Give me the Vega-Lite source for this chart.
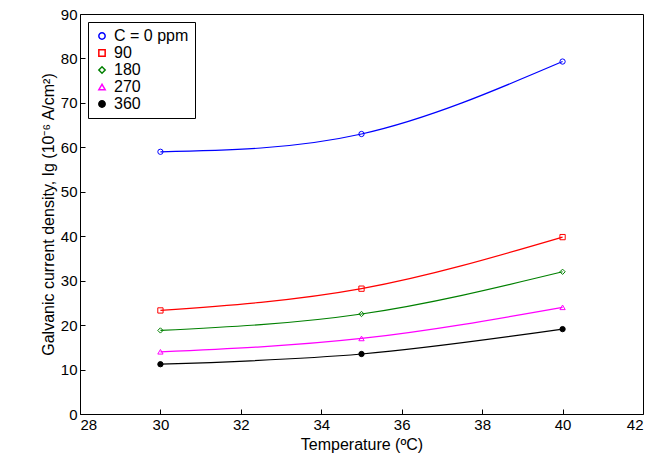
{
  "$schema": "https://vega.github.io/schema/vega-lite/v6.json",
  "width": 563,
  "height": 400,
  "padding": {"left": 40, "top": 7, "right": 5, "bottom": 5},
  "background": "white",
  "data": {
    "values": [
      {"T": 30, "I": 59.0, "C": "C = 0 ppm"},
      {"T": 35, "I": 63.0, "C": "C = 0 ppm"},
      {"T": 40, "I": 79.3, "C": "C = 0 ppm"},
      {"T": 30, "I": 23.3, "C": "90"},
      {"T": 35, "I": 28.2, "C": "90"},
      {"T": 40, "I": 39.8, "C": "90"},
      {"T": 30, "I": 18.8, "C": "180"},
      {"T": 35, "I": 22.5, "C": "180"},
      {"T": 40, "I": 32.0, "C": "180"},
      {"T": 30, "I": 14.0, "C": "270"},
      {"T": 35, "I": 17.0, "C": "270"},
      {"T": 40, "I": 24.0, "C": "270"},
      {"T": 30, "I": 11.2, "C": "360"},
      {"T": 35, "I": 13.5, "C": "360"},
      {"T": 40, "I": 19.1, "C": "360"}
    ]
  },
  "encoding": {
    "x": {
      "field": "T", "type": "quantitative",
      "scale": {"domain": [28, 42], "nice": false},
      "axis": {"values": [28, 30, 32, 34, 36, 38, 40, 42], "title": "Temperature (\u00baC)"}
    },
    "y": {
      "field": "I", "type": "quantitative",
      "scale": {"domain": [0, 90], "nice": false},
      "axis": {"values": [0, 10, 20, 30, 40, 50, 60, 70, 80, 90], "title": "Galvanic current density, Ig (10\u207b\u2076 A/cm\u00b2)"}
    },
    "color": {
      "field": "C", "type": "nominal",
      "scale": {
        "domain": ["C = 0 ppm", "90", "180", "270", "360"],
        "range": ["#0000ff", "#ff0000", "#008000", "#ff00ff", "#000000"]
      },
      "legend": {
        "title": null, "orient": "top-left", "offset": 8,
        "strokeColor": "black", "fillColor": "white", "padding": 6,
        "labelFontSize": 16, "labelFont": "Liberation Sans", "symbolSize": 40, "rowPadding": 1
      }
    }
  },
  "layer": [
    {
      "mark": {"type": "line", "interpolate": "natural", "strokeWidth": 1.2},
      "encoding": {"detail": {"field": "C"}}
    },
    {
      "mark": {"type": "point", "size": 28, "strokeWidth": 1, "opacity": 1},
      "encoding": {
        "shape": {
          "field": "C", "type": "nominal",
          "scale": {
            "domain": ["C = 0 ppm", "90", "180", "270", "360"],
            "range": ["circle", "square", "diamond", "triangle-up", "circle"]
          },
          "legend": null
        },
        "fill": {
          "field": "C", "type": "nominal",
          "scale": {
            "domain": ["C = 0 ppm", "90", "180", "270", "360"],
            "range": ["transparent", "transparent", "transparent", "transparent", "black"]
          },
          "legend": null
        }
      }
    }
  ],
  "config": {
    "view": {"stroke": "black", "strokeWidth": 1},
    "axis": {
      "grid": false, "domain": false, "tickColor": "black", "tickSize": -5,
      "labelFont": "Liberation Sans", "titleFont": "Liberation Sans",
      "labelFontSize": 15, "titleFontSize": 16, "titleFontWeight": "normal",
      "labelColor": "black", "titleColor": "black", "labelPadding": 8
    }
  }
}
